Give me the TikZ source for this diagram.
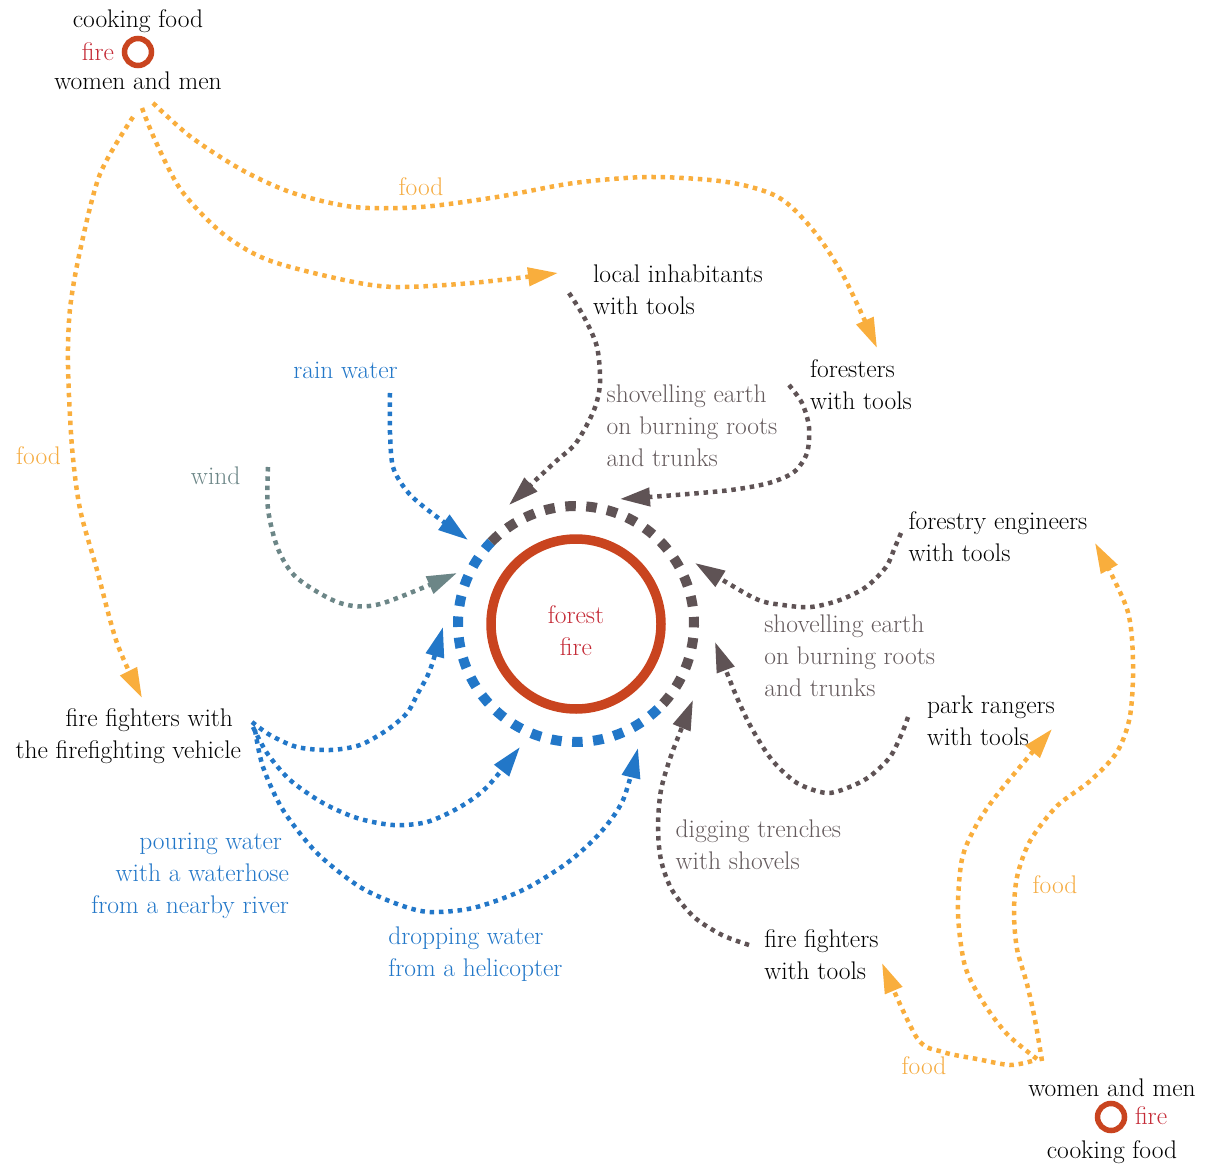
\documentclass[tikz,border=0pt]{standalone}
\usepackage{fontspec}
\usetikzlibrary{arrows.meta}
\definecolor{cblack}{HTML}{000000}
\definecolor{cred}{HTML}{C42A36}
\definecolor{cring}{HTML}{C9441F}
\definecolor{corange}{HTML}{F9AE3D}
\definecolor{cfood}{HTML}{F5AC42}
\definecolor{cblue}{HTML}{2277C8}
\definecolor{cgray}{HTML}{5F5355}
\definecolor{cgraytext}{HTML}{645A5C}
\definecolor{cteal}{HTML}{6C8687}
\newcommand\lstrut{\rule{0pt}{22.4pt}}
\begin{document}
\begin{tikzpicture}[x=1pt,y=-1pt,
  lbl/.style={inner sep=0pt, outer sep=0pt, font=\fontsize{25.5}{32}\selectfont, text=cblack},
  lblw/.style={lbl, anchor=north west, align=left},
  lble/.style={lbl, anchor=north east, align=right},
  lblc/.style={lbl, anchor=north, align=center},
  conn/.style={line width=4.5pt, dash pattern=on 4.5pt off 4.8pt, -{Triangle[length=30pt,width=18pt]}},
  orangeconn/.style={conn, draw=corange},
  grayconn/.style={conn, draw=cgray},
  blueconn/.style={conn, draw=cblue},
  tealconn/.style={conn, draw=cteal},
  ringdash/.style={line width=10pt, dash pattern=on 10.5pt off 10.5pt},
  smallfire/.style={circle, draw=cring, line width=5.5pt, minimum size=27pt, inner sep=0pt}
]
\useasboundingbox (0,0) rectangle (1210,1166);

% central fire
\coordinate (c) at (576,624);
\node[circle, draw=cring, line width=9.5pt, minimum size=170pt, inner sep=0pt] (ff) at (c) {};
\node[lblc, text=cred] (fflbl) at (576,601) {\lstrut forest\\fire};
\draw[ringdash, draw=cblue] (c) ++(46:118) arc[start angle=46, end angle=224, radius=118];
\draw[ringdash, draw=cgray] (c) ++(-136:118) arc[start angle=-136, end angle=46, radius=118];

% top-left group
\node[lblc] (cook1) at (138,5) {\lstrut cooking food};
\node[lble, text=cred] (firet1) at (114,38.5) {\lstrut fire};
\node[smallfire] (sc1) at (138,52) {};
\node[lblc] (wm1) at (138,67) {\lstrut women and men};

% bottom-right group
\node[lblc] (wm2) at (1112,1074) {\lstrut women and men};
\node[smallfire] (sc2) at (1111,1117) {};
\node[lblw, text=cred] (firet2) at (1135,1102) {\lstrut fire};
\node[lblc] (cook2) at (1112,1136) {\lstrut cooking food};

% actors
\node[lblw] (loc) at (593,260) {\lstrut local inhabitants\\with tools};
\node[lblw] (for) at (810,355.5) {\lstrut foresters\\with tools};
\node[lblw] (eng) at (908.6,507.5) {\lstrut forestry engineers\\with tools};
\node[lblw] (park) at (927,691.5) {\lstrut park rangers\\with tools};
\node[lblw] (fft) at (764.3,925.5) {\lstrut fire fighters\\with tools};
\node[lble] (ffv) at (241,704) {\lstrut fire fighters with\hspace*{8pt}\\the firefighting vehicle};

% labels
\node[lblc, text=cblue] (rain) at (345.5,356) {\lstrut rain water};
\node[lblc, text=cteal] (wind) at (215.7,462.5) {\lstrut wind};
\node[lblc, text=cfood] (food1) at (38.5,442.5) {\lstrut food};
\node[lblc, text=cfood] (food2) at (421,173.5) {\lstrut food};
\node[lblc, text=cfood] (food3) at (1055,871) {\lstrut food};
\node[lblc, text=cfood] (food4) at (924,1052.5) {\lstrut food};
\node[lblw, text=cgraytext] (shov1) at (606.7,380.5) {\lstrut shovelling earth\\on burning roots\\and trunks};
\node[lblw, text=cgraytext] (shov2) at (764.3,610.5) {\lstrut shovelling earth\\on burning roots\\and trunks};
\node[lblw, text=cgraytext] (dig) at (675.7,815.5) {\lstrut digging trenches\\with shovels};
\node[lble, text=cblue] (pour) at (289,827) {\lstrut pouring water\hspace*{7pt}\\with a waterhose\\from a nearby river};
\node[lblw, text=cblue] (drop) at (388.3,922.5) {\lstrut dropping water\\from a helicopter};

% connector end points
\coordinate (a0) at (133,117);  \coordinate (a1) at (142,698);
\coordinate (b0) at (142,108);  \coordinate (b1) at (558,273);
\coordinate (c0) at (153,103);  \coordinate (c1) at (877,348);
\coordinate (d0) at (1042,1061); \coordinate (d1) at (1095,543);
\coordinate (e0) at (1037,1059); \coordinate (e1) at (1052,729);
\coordinate (f0) at (1032,1061); \coordinate (f1) at (882,963);
\coordinate (g0) at (901,533);  \coordinate (g1) at (695,563);
\coordinate (h0) at (908,717);  \coordinate (h1) at (715,642);
\coordinate (i0) at (749,945);  \coordinate (i1) at (693,700);
\coordinate (j0) at (569,293);  \coordinate (j1) at (509,505);
\coordinate (k0) at (789,385);  \coordinate (k1) at (620,499);
\coordinate (l0) at (390,393);  \coordinate (l1) at (468,540);
\coordinate (m0) at (268,467);  \coordinate (m1) at (457,573);
\coordinate (n0) at (252,722);  \coordinate (n1) at (443,627);
\coordinate (o0) at (253,727);  \coordinate (o1) at (520,747);
\coordinate (p0) at (255,730);  \coordinate (p1) at (638,748);

% food connectors
\draw[orangeconn] plot[smooth] coordinates {(a0) (100,174) (80,251) (70,309) (68,366) (72,447) (80,509) (97,570) (117,643) (a1)};
\draw[orangeconn] plot[smooth] coordinates {(b0) (155,140) (181,190) (222,233) (268,260) (344,280) (395,287) (472,283) (b1)};
\draw[orangeconn] plot[smooth] coordinates {(c0) (191,137) (242,170) (293,193) (354,207) (421,207) (497,197) (574,183) (650,177) (727,182) (778,197) (813,230) (844,277) (c1)};
\draw[orangeconn] plot[smooth] coordinates {(d0) (1035,1020) (1027,984) (1017,949) (1014,913) (1017,877) (1030,841) (1057,806) (1090,781) (1117,752) (1130,716) (1133,663) (1127,609) (d1)};
\draw[orangeconn] plot[smooth] coordinates {(e0) (1007,1034) (983,1002) (965,966) (958,913) (962,859) (977,824) (1000,791) (e1)};
\draw[orangeconn] plot[smooth] coordinates {(f0) (1010,1065) (977,1059) (943,1052) (917,1038) (f1)};

% tool connectors
\draw[grayconn] plot[smooth] coordinates {(g0) (895,547) (886,567) (866,587) (840,600) (811,607) (783,605) (754,598) (g1)};
\draw[grayconn] plot[smooth] coordinates {(h0) (902,733) (890,757) (869,777) (847,788) (826,793) (797,783) (772,760) (751,727) (735,693) (h1)};
\draw[grayconn] plot[smooth] coordinates {(i0) (722,935) (694,917) (672,890) (661,860) (658,827) (661,790) (672,753) (i1)};
\draw[grayconn] plot[smooth] coordinates {(j0) (584,317) (597,347) (600,383) (594,410) (576,443) (554,463) (j1)};
\draw[grayconn] plot[smooth] coordinates {(k0) (802,403) (809,427) (807,453) (794,472) (769,483) (731,490) (676,495) (k1)};

% water and wind connectors
\draw[blueconn] plot[smooth] coordinates {(l0) (390,433) (393,467) (406,490) (424,507) (l1)};
\draw[tealconn] plot[smooth] coordinates {(m0) (268,509) (278,549) (297,578) (340,603) (380,604) (m1)};
\draw[blueconn] plot[smooth] coordinates {(n0) (270,735) (297,747) (330,750) (360,745) (387,730) (407,713) (418,693) (430,670) (n1)};
\draw[blueconn] plot[smooth] coordinates {(o0) (267,753) (290,780) (323,803) (357,818) (393,825) (427,822) (460,807) (487,787) (o1)};
\draw[blueconn] plot[smooth] coordinates {(p0) (263,767) (283,810) (317,853) (360,887) (400,905) (430,912) (473,908) (523,890) (567,863) (600,833) (623,800) (p1)};
\end{tikzpicture}
\end{document}
